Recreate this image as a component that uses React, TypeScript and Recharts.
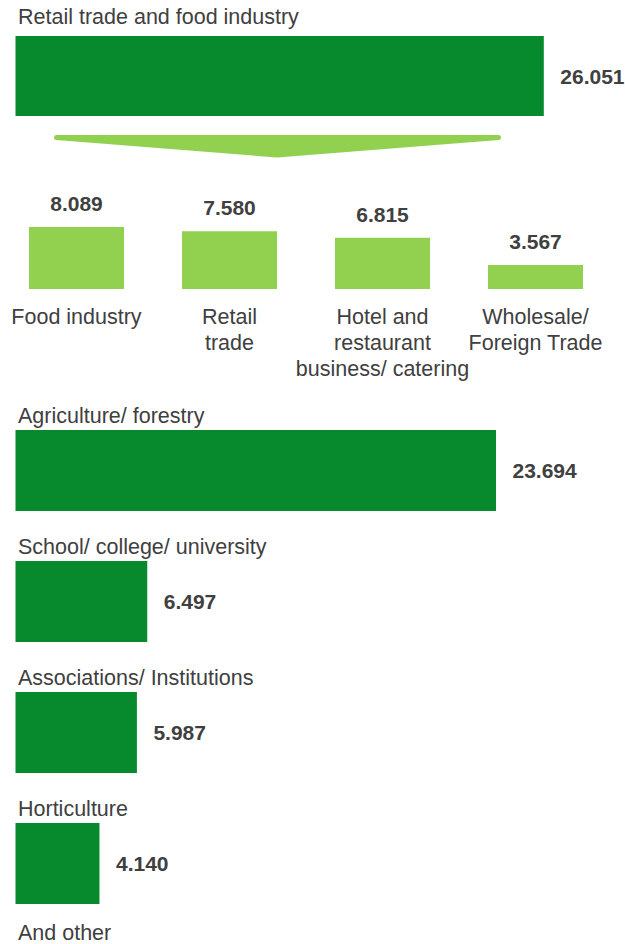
import React from 'react';
import { BarChart, Bar, XAxis, YAxis, LabelList } from 'recharts';

// headline sector
const topCategories = ['Retail trade and food industry'];
const topValues = [26.051];

// breakdown of the headline sector
const subCategories = [
  'Food industry',
  'Retail\ntrade',
  'Hotel and\nrestaurant\nbusiness/ catering',
  'Wholesale/\nForeign Trade',
];
const subValues = [8.089, 7.58, 6.815, 3.567];

// remaining sectors
const sectorCategories = [
  'Agriculture/ forestry',
  'School/ college/ university',
  'Associations/ Institutions',
  'Horticulture',
];
const sectorValues = [23.694, 6.497, 5.987, 4.14];

const otherLabel = 'And other';

const DARK = '#078a2e';
const LIGHT = '#92d050';
const TEXT = '#404040';
const FONT = '"Liberation Sans", Arial, Helvetica, sans-serif';
const LABEL_SIZE = 21.5;

const topData = topCategories.map((name, i) => ({ name, value: topValues[i] }));
const subData = subCategories.map((name, i) => ({ name, value: subValues[i] }));
const sectorData = sectorCategories.map((name, i) => ({ name, value: sectorValues[i] }));

const fmt = (v: number) => Number(v).toFixed(3);

// category name written above a horizontal bar
const makeNameLabel = (dy: number) => (props: any) => {
  const { x, y, value } = props;
  return (
    <text x={x + 2.5} y={y + dy} fill={TEXT} fontSize={LABEL_SIZE} fontFamily={FONT}>
      {value}
    </text>
  );
};

// value to the right of a horizontal bar
const HValueLabel = (props: any) => {
  const { x, y, width, height, value } = props;
  return (
    <text
      x={x + width + 16.5}
      y={y + height / 2 + 7.5}
      fill={TEXT}
      fontSize={21}
      fontWeight="bold"
      fontFamily={FONT}
    >
      {fmt(value)}
    </text>
  );
};

// value above a vertical bar
const VValueLabel = (props: any) => {
  const { x, y, width, value } = props;
  return (
    <text
      x={x + width / 2}
      y={y - 16}
      textAnchor="middle"
      fill={TEXT}
      fontSize={21}
      fontWeight="bold"
      fontFamily={FONT}
    >
      {fmt(value)}
    </text>
  );
};

const SubTick = (props: any) => {
  const { x, y, payload } = props;
  const lines = String(payload.value).split('\n');
  return (
    <g>
      {lines.map((line, i) => (
        <text
          key={i}
          x={x}
          y={y + 35.2 + i * 26}
          textAnchor="middle"
          fill={TEXT}
          fontSize={LABEL_SIZE}
          fontFamily={FONT}
        >
          {line}
        </text>
      ))}
    </g>
  );
};

const App = () => {
  return (
    <div style={{ position: 'absolute', left: 0, top: 0, width: 625, height: 944, background: '#fff' }}>
      <svg width={625} height={944} style={{ position: 'absolute', left: 0, top: 0 }}>
        {/* arrow pointing from the headline bar to its breakdown */}
        <polygon
          points="56.5,137.5 498.5,137.5 277,155"
          fill={LIGHT}
          stroke={LIGHT}
          strokeWidth={5}
          strokeLinejoin="round"
        />
        <text x={18} y={940} fill={TEXT} fontSize={LABEL_SIZE} fontFamily={FONT}>
          {otherLabel}
        </text>
      </svg>

      <div style={{ position: 'absolute', left: 0, top: 0 }}>
        <BarChart
          width={625}
          height={125}
          data={topData}
          layout="vertical"
          margin={{ top: 36, right: 1.1, bottom: 9, left: 15.5 }}
          barCategoryGap={0}
        >
          <XAxis type="number" domain={[0, 30]} hide />
          <YAxis type="category" dataKey="name" hide />
          <Bar dataKey="value" fill={DARK} isAnimationActive={false}>
            <LabelList dataKey="name" content={makeNameLabel(-12)} />
            <LabelList dataKey="value" content={HValueLabel} />
          </Bar>
        </BarChart>
      </div>

      <div style={{ position: 'absolute', left: 0, top: 180 }}>
        <BarChart
          width={625}
          height={215}
          data={subData}
          margin={{ top: 31, right: 13, bottom: 0, left: 0 }}
        >
          <XAxis
            dataKey="name"
            axisLine={false}
            tickLine={false}
            tickSize={0}
            tickMargin={0}
            height={106}
            interval={0}
            tick={<SubTick />}
          />
          <YAxis domain={[0.7, 10]} hide allowDataOverflow />
          <Bar dataKey="value" fill={LIGHT} barSize={95} isAnimationActive={false}>
            <LabelList dataKey="value" content={VValueLabel} />
          </Bar>
        </BarChart>
      </div>

      <div style={{ position: 'absolute', left: 0, top: 380 }}>
        <BarChart
          width={625}
          height={564}
          data={sectorData}
          layout="vertical"
          margin={{ top: 25, right: 1.1, bottom: 15, left: 15.5 }}
        >
          <XAxis type="number" domain={[0, 30]} hide />
          <YAxis type="category" dataKey="name" hide />
          <Bar dataKey="value" fill={DARK} barSize={81} isAnimationActive={false}>
            <LabelList dataKey="name" content={makeNameLabel(-7.4)} />
            <LabelList dataKey="value" content={HValueLabel} />
          </Bar>
        </BarChart>
      </div>
    </div>
  );
};

export default App;
